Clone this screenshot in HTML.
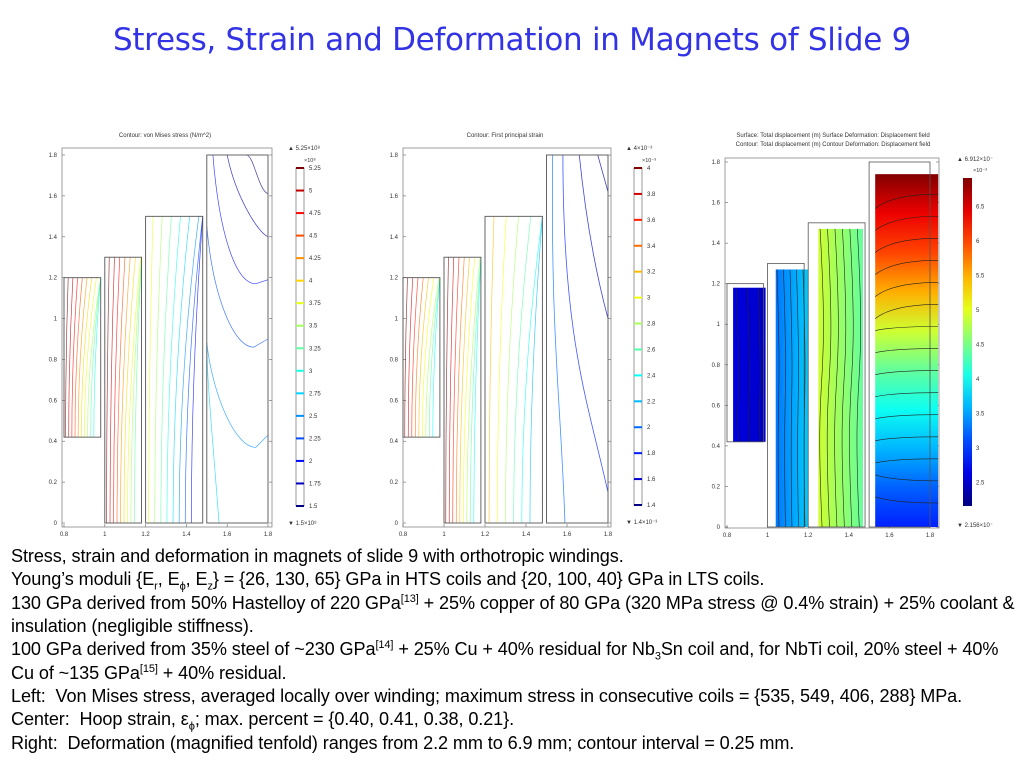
<!DOCTYPE html>
<html><head><meta charset="utf-8">
<style>
body{margin:0;width:1024px;height:768px;background:#fff;overflow:hidden;font-family:"Liberation Sans",sans-serif;position:relative}
#title{position:absolute;top:22px;left:0;width:1024px;text-align:center;font-size:31px;color:#3333e6;font-family:"DejaVu Sans","Liberation Sans",sans-serif;letter-spacing:-0.3px}
#body{position:absolute;left:11px;top:545px;width:1012px;font-size:18.1px;line-height:23.35px;color:#000;letter-spacing:-0.1px;white-space:nowrap}
sup,sub{font-size:11px;line-height:0}
svg{position:absolute;left:0;top:0}
</style></head><body>
<div id="title">Stress, Strain and Deformation in Magnets of Slide 9</div>
<svg id="chart" width="1024" height="545"></svg>
<div id="body">
<div>Stress, strain and deformation in magnets of slide 9 with orthotropic windings.</div>
<div>Young’s moduli {E<sub>r</sub>, E<sub>ϕ</sub>, E<sub>z</sub>} = {26, 130, 65} GPa in HTS coils and {20, 100, 40} GPa in LTS coils.</div>
<div>130 GPa derived from 50% Hastelloy of 220 GPa<sup>[13]</sup> + 25% copper of 80 GPa (320 MPa stress @ 0.4% strain) + 25% coolant &amp;<br>insulation (negligible stiffness).</div>
<div>100 GPa derived from 35% steel of ~230 GPa<sup>[14]</sup> + 25% Cu + 40% residual for Nb<sub>3</sub>Sn coil and, for NbTi coil, 20% steel + 40%<br>Cu of ~135 GPa<sup>[15]</sup> + 40% residual.</div>
<div>Left:&nbsp; Von Mises stress, averaged locally over winding; maximum stress in consecutive coils = {535, 549, 406, 288} MPa.</div>
<div>Center:&nbsp; Hoop strain, ε<sub>ϕ</sub>; max. percent = {0.40, 0.41, 0.38, 0.21}.</div>
<div>Right:&nbsp; Deformation (magnified tenfold) ranges from 2.2 mm to 6.9 mm; contour interval = 0.25 mm.</div>
</div>
<script>
const xTicks=[0.8,1,1.2,1.4,1.6,1.8];
const yTicks=[0,0.2,0.4,0.6,0.8,1,1.2,1.4,1.6,1.8];
const coilR0=[0.8,1.0,1.2,1.5];
const coilR1=[0.98,1.18,1.48,1.8];
const coilZ0=[0.42,0,0,0];
const coilZ1=[1.2,1.3,1.5,1.8];
const stressLevels=[5.25,5,4.75,4.5,4.25,4,3.75,3.5,3.25,3,2.75,2.5,2.25,2,1.75,1.5];
const strainLevels=[4,3.8,3.6,3.4,3.2,3,2.8,2.6,2.4,2.2,2,1.8,1.6,1.4];
const dispTicks=[6.5,6,5.5,5,4.5,4,3.5,3,2.5];
const dispMin=2.156, dispMax=6.912;
const stressC1=[5.25,5,4.75,4.5,4.25,4,3.75,3.5,3.25,3];
const stressC2=[5.25,5,4.75,4.5,4.25,4,3.75,3.5,3.25];
const stressC3=[3.75,3.5,3.25,3,2.75,2.5,2.25,2];
const strainC1=[4,3.8,3.6,3.4,3.2,3,2.8,2.6,2.4];
const strainC2=[4,3.8,3.6,3.4,3.2,3,2.8,2.6,2.4];
const strainC3=[3.2,3,2.8,2.6,2.4,2.2];
const stressBowls=[[1.5,0.88,1.74,0.37,0.43,2.5],[1.5,1.45,1.73,0.86,0.9,2.25],[1.53,1.8,1.74,1.17,1.19,2.0],[1.6,1.8,1.8,1.4,1.4,1.75],[1.69,1.8,1.8,1.61,1.61,1.5]];
const defR0=[0.83,1.04,1.25,1.53];
const defR1=[0.99,1.2,1.47,1.84];
const defZ1=[1.18,1.27,1.47,1.74];
const defLeftVal=[2.6,3.3,4.9,3.3];
const defRightVal=[2.5,3.7,4.4,6.9];
const coil4Profile=[2.9,3.2,3.6,4.0,4.4,4.9,5.5,6.0,6.4,6.9];

const NS="http://www.w3.org/2000/svg";
const svg=document.getElementById('chart');
function el(t,a,p){const e=document.createElementNS(NS,t);for(const k in a)e.setAttribute(k,a[k]);(p||svg).appendChild(e);return e;}
function jet(t){t=Math.max(0,Math.min(1,t));const r=Math.min(1,Math.max(0,1.5-Math.abs(4*t-3))),g=Math.min(1,Math.max(0,1.5-Math.abs(4*t-2))),b=Math.min(1,Math.max(0,1.5-Math.abs(4*t-1)));return `rgb(${Math.round(r*255)},${Math.round(g*255)},${Math.round(b*255)})`;}

function panel(P){
  const sx=v=>P.x0+(v-0.8)/(1.0)*(P.x1-P.x0);
  const sy=v=>P.y0-(v/1.8)*(P.y0-P.y1);
  const g=el('g',{});
  
  
  const t=el('text',{x:P.tx,y:137,'font-size':6,'text-anchor':'middle',fill:'#333'},g);
  t.textContent=P.title;
  if(P.title2){const t2=el('text',{x:P.tx,y:146,'font-size':6,'text-anchor':'middle',fill:'#333'},g);t2.textContent=P.title2;}
  el('rect',{x:P.fx0,y:P.fy0,width:P.fx1-P.fx0,height:P.fy1-P.fy0,fill:'none',stroke:'#888','stroke-width':0.8},g);
  xTicks.forEach(v=>{const l=el('text',{x:sx(v),y:P.fy1+9,'font-size':6,'text-anchor':'middle',fill:'#333'},g);l.textContent=v===1?'1':v.toFixed(1);
    el('line',{x1:sx(v),x2:sx(v),y1:P.fy1,y2:P.fy1-3,stroke:'#666','stroke-width':0.6},g);});
  yTicks.forEach(v=>{const l=el('text',{x:P.fx0-5,y:sy(v)+2,'font-size':6,'text-anchor':'end',fill:'#333'},g);l.textContent=v===0?'0':v===1?'1':v.toFixed(1);
    el('line',{x1:P.fx0,x2:P.fx0+3,y1:sy(v),y2:sy(v),stroke:'#666','stroke-width':0.6},g);
    el('line',{x1:P.fx1,x2:P.fx1-3,y1:sy(v),y2:sy(v),stroke:'#666','stroke-width':0.6},g);});
  return {g,sx,sy};
}

function contourPanel(P,sets,levels,lmin,lmax,lastCurves){
  const {g,sx,sy}=panel(P);
  sets.forEach((lv,ci)=>{
    const n=lv.length;
    lv.forEach((v,i)=>{
      const f=(i+0.5)/n*0.95;
      const r0=coilR0[ci],w=coilR1[ci]-r0;
      const xb=sx(r0+w*f*0.9), xt=sx(r0+w*Math.min(1,f*1.35+0.05));
      const yb=sy(coilZ0[ci]), yt=sy(coilZ1[ci]);
      const p=el('path',{d:`M${xb},${yb} Q${xb},${(yb+yt)/2} ${xt},${yt}`,fill:'none',stroke:jet((v-lmin)/(lmax-lmin)),'stroke-width':0.7,'stroke-opacity':0.75},g);
      
      
    });
  });
  lastCurves(g,sx,sy);
  for(let c=0;c<4;c++){
    const r=el('rect',{x:sx(coilR0[c]),y:sy(coilZ1[c]),width:sx(coilR1[c])-sx(coilR0[c]),height:sy(coilZ0[c])-sy(coilZ1[c]),fill:'none',stroke:'#555','stroke-width':0.9},g);
    
    
  }
  el('rect',{x:P.cb,y:P.cby0,width:8,height:P.cby1-P.cby0,fill:'#fff',stroke:'#555','stroke-width':0.6},g);
  levels.forEach(v=>{
    const y=P.cby1-(v-lmin)/(lmax-lmin)*(P.cby1-P.cby0);
    el('rect',{x:P.cb,y:y-1,width:8,height:2,fill:jet((v-lmin)/(lmax-lmin))},g);
    const t=el('text',{x:P.cb+13,y:y+2,'font-size':6,fill:'#333'},g);t.textContent=String(v);
  });
  const a=el('text',{x:P.cb-8,y:P.cby0-18,'font-size':6,fill:'#333'},g);a.textContent=P.top;
  const m=el('text',{x:P.cb+8,y:P.cby0-6,'font-size':5.5,fill:'#333'},g);m.textContent=P.mult;
  const b=el('text',{x:P.cb-8,y:P.cby1+19,'font-size':6,fill:'#333'},g);b.textContent=P.bot;
}

contourPanel({name:'von-mises-plot',x0:64,x1:268,y0:523,y1:155,fx0:62,fx1:272,fy0:148,fy1:527,tx:165,title:'Contour: von Mises stress (N/m^2)',cb:296,cby0:168,cby1:506,top:'▲ 5.25×10⁸',mult:'×10⁸',bot:'▼ 1.5×10⁸'},
 [stressC1,stressC2,stressC3],stressLevels,1.5,5.25,(g,sx,sy)=>{
  stressBowls.forEach(([r0,z0,rm,zm,ze,v])=>{
    let d;
    if(rm<1.8) d=`M${sx(r0)},${sy(z0)} C${sx(r0+0.03)},${sy(zm+0.25)} ${sx(rm-0.1)},${sy(zm)} ${sx(rm)},${sy(zm)} L${sx(1.8)},${sy(ze)}`;
    else d=`M${sx(r0)},${sy(z0)} C${sx(r0+0.04)},${sy(zm+0.2)} ${sx(1.75)},${sy(zm+0.02)} ${sx(1.8)},${sy(zm)}`;
    const p=el('path',{d,fill:'none',stroke:jet((v-1.5)/3.75),'stroke-width':0.7,'stroke-opacity':0.75},g);
    
    
  });
  const p=el('path',{d:`M${sx(1.56)},${sy(0)} C${sx(1.53)},${sy(0.4)} ${sx(1.5)},${sy(0.7)} ${sx(1.5)},${sy(0.88)}`,fill:'none',stroke:jet((2.75-1.5)/3.75),'stroke-width':0.7,'stroke-opacity':0.75},g);
  
  
 });

contourPanel({name:'principal-strain-plot',x0:403,x1:608,y0:523,y1:155,fx0:403,fx1:611,fy0:148,fy1:527,tx:505,title:'Contour: First principal strain',cb:634,cby0:168,cby1:505,top:'▲ 4×10⁻³',mult:'×10⁻³',bot:'▼ 1.4×10⁻³'},
 [strainC1,strainC2,strainC3],strainLevels,1.4,4,(g,sx,sy)=>{
  const ls=[[`M${sx(1.59)},${sy(0)} C${sx(1.57)},${sy(0.6)} ${sx(1.52)},${sy(0.9)} ${sx(1.53)},${sy(1.8)}`,2.0],
   [`M${sx(1.8)},${sy(0.15)} C${sx(1.7)},${sy(0.6)} ${sx(1.58)},${sy(0.9)} ${sx(1.58)},${sy(1.8)}`,1.8],
   [`M${sx(1.8)},${sy(1.0)} C${sx(1.72)},${sy(1.3)} ${sx(1.68)},${sy(1.6)} ${sx(1.66)},${sy(1.8)}`,1.6],
   [`M${sx(1.8)},${sy(1.62)} L${sx(1.75)},${sy(1.8)}`,1.5]];
  ls.forEach(([d,v])=>{const p=el('path',{d,fill:'none',stroke:jet((v-1.4)/2.6),'stroke-width':0.8,'stroke-opacity':0.75},g);
    
    });
 });

(function(){
  const P={name:'displacement-plot',x0:727,x1:930,y0:527,y1:162,fx0:725,fx1:939,fy0:158,fy1:528,tx:833,title:'Surface: Total displacement (m)   Surface Deformation: Displacement field',title2:'Contour: Total displacement (m)   Contour Deformation: Displacement field'};
  const {g,sx,sy}=panel(P);
  const defs=el('defs',{},g);
  const norm=v=>(v-dispMin)/(dispMax-dispMin);
  for(let c=0;c<4;c++){
    const id='gr'+c;
    let gr;
    if(c<3){gr=el('linearGradient',{id,x1:0,y1:0,x2:1,y2:0},defs);
      el('stop',{offset:0,'stop-color':jet(norm(defLeftVal[c]))},gr);
      el('stop',{offset:1,'stop-color':jet(norm(defRightVal[c]))},gr);}
    else{gr=el('linearGradient',{id,x1:0,y1:1,x2:0,y2:0},defs);
      coil4Profile.forEach((v,i)=>el('stop',{offset:i/(coil4Profile.length-1),'stop-color':jet(norm(v))},gr));}
    const r=el('rect',{x:sx(defR0[c]),y:sy(defZ1[c]),width:sx(defR1[c])-sx(defR0[c]),height:sy(coilZ0[c])-sy(defZ1[c]),fill:`url(#${id})`},g);
    
    
    const o=el('rect',{x:sx(coilR0[c]),y:sy(coilZ1[c]),width:sx(coilR1[c])-sx(coilR0[c]),height:sy(coilZ0[c])-sy(coilZ1[c]),fill:'none',stroke:'#555','stroke-width':0.8},g);
    
    
    if(c<3){const n=[3,5,6][c];for(let i=0;i<n;i++){const f=(i+0.5)/n;const x=sx(defR0[c]+(defR1[c]-defR0[c])*f);
      el('path',{d:`M${x},${sy(coilZ0[c])} C${x+(c==2?-8:-3)},${sy(defZ1[c]*0.6)} ${x+(c==2?8:3)},${sy(defZ1[c]*0.4)} ${x-2},${sy(defZ1[c])}`,fill:'none',stroke:'#222','stroke-width':0.6},g);}}
    else{for(let i=1;i<16;i++){const z=defZ1[c]*i/16;const bow=(z>1.0)?0.06:(z<0.25?-0.04:0.01);el('path',{d:`M${sx(defR0[c])},${sy(z-bow)} Q${sx(1.62)},${sy(z+0.01)} ${sx(defR1[c])},${sy(z+0.01)}`,fill:'none',stroke:'#222','stroke-width':0.6},g);}}
  }
  const cb=963,cy0=178,cy1=506;
  const lg=el('linearGradient',{id:'cbg',x1:0,y1:1,x2:0,y2:0},defs);
  for(let i=0;i<=10;i++)el('stop',{offset:i/10,'stop-color':jet(i/10)},lg);
  const cr=el('rect',{x:cb,y:cy0,width:9,height:cy1-cy0,fill:'url(#cbg)'},g);
  
  
  dispTicks.forEach(v=>{const y=cy1-norm(v)*(cy1-cy0);const t=el('text',{x:cb+13,y:y+2,'font-size':6,fill:'#333'},g);t.textContent=String(v);});
  const a=el('text',{x:cb-6,y:161,'font-size':6,fill:'#333'},g);a.textContent='▲ 6.912×10⁻';
  const m=el('text',{x:cb+10,y:172,'font-size':5.5,fill:'#333'},g);m.textContent='×10⁻³';
  const b=el('text',{x:cb-6,y:527,'font-size':6,fill:'#333'},g);b.textContent='▼ 2.156×10⁻';
})();
</script>
</body></html>
